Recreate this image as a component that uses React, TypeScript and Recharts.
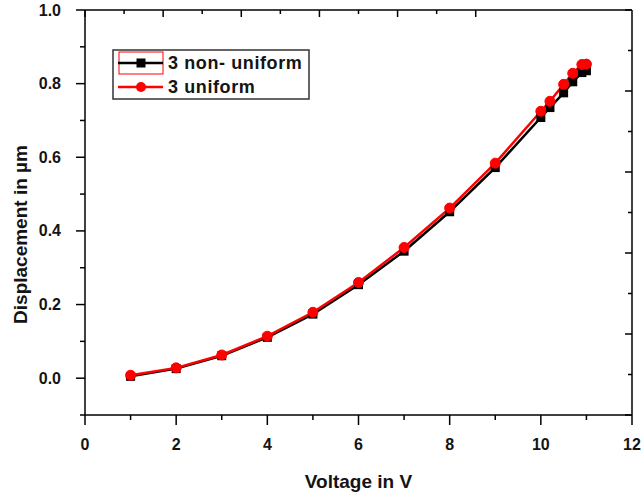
import { LineChart, Line, XAxis, YAxis } from 'recharts'

// applied voltage (V)
const voltage = [1, 2, 3, 4, 5, 6, 7, 8, 9, 10, 10.2, 10.5, 10.7, 10.9, 11]
// displacement (um)
const nonUniform = [0.005, 0.026, 0.061, 0.111, 0.174, 0.254, 0.345, 0.452, 0.572, 0.708, 0.735, 0.775, 0.805, 0.83, 0.835]
const uniform = [0.008, 0.028, 0.063, 0.114, 0.179, 0.26, 0.355, 0.462, 0.584, 0.725, 0.752, 0.798, 0.828, 0.852, 0.853]

const xTicks = [0, 1, 2, 3, 4, 5, 6, 7, 8, 9, 10, 11, 12]
const yTicks = [-0.1, 0, 0.1, 0.2, 0.3, 0.4, 0.5, 0.6, 0.7, 0.8, 0.9, 1.0]
const topTicks = [0, 1, 2, 3, 4, 5, 6, 7, 8, 9, 10]
const rightTicks = [0, 1, 2, 3, 4, 5, 6, 7, 8, 9, 10]

const SERIES = [
  { key: 'nonUniform', name: '3 non- uniform', color: '#000000' },
  { key: 'uniform', name: '3 uniform', color: '#ff0000' },
]

const data = voltage.map((v, i) => ({ v, nonUniform: nonUniform[i], uniform: uniform[i] }))

const FONT = '"Liberation Sans", Arial, sans-serif'
const TEXT = '#141414'

function BottomTick({ x, y, payload }: any) {
  const major = payload.value % 2 === 0
  return (
    <g>
      <line x1={x} y1={y} x2={x} y2={y + (major ? 10 : 5)} stroke="#000" strokeWidth={1.5} />
      {major && (
        <text x={x} y={y + 29} textAnchor="middle" dominantBaseline="central"
          fontFamily={FONT} fontWeight="bold" fontSize={16} fill={TEXT}>
          {payload.value}
        </text>
      )}
    </g>
  )
}

function LeftTick({ x, y, payload }: any) {
  const n = Math.round(payload.value * 10)
  const major = n >= 0 && n % 2 === 0
  return (
    <g>
      <line x1={x - (major ? 9 : 5)} y1={y} x2={x} y2={y} stroke="#000" strokeWidth={1.5} />
      {major && (
        <text x={x - 24} y={y} textAnchor="end" dominantBaseline="central"
          fontFamily={FONT} fontWeight="bold" fontSize={16} fill={TEXT}>
          {(n / 10).toFixed(1)}
        </text>
      )}
    </g>
  )
}

function TopTick({ x, y, payload }: any) {
  const major = payload.value % 2 === 0
  return <line x1={x} y1={y} x2={x} y2={y + (major ? 7 : 4)} stroke="#000" strokeWidth={1.5} />
}

function RightTick({ x, y, payload }: any) {
  const major = payload.value % 2 === 0
  return <line x1={x - (major ? 7 : 4)} y1={y} x2={x} y2={y} stroke="#000" strokeWidth={1.5} />
}

function SquareDot({ cx, cy, index }: any) {
  return <rect key={`sq-${index}`} x={cx - 4.5} y={cy - 4.5} width={9} height={9} fill="#000" />
}

function YTitle({ viewBox }: any) {
  const cx = 20
  const cy = viewBox.y + viewBox.height / 2 + 22
  return (
    <text x={cx} y={cy} transform={`rotate(-90, ${cx}, ${cy})`} textAnchor="middle"
      dominantBaseline="central" fontFamily={FONT} fontWeight="bold" fontSize={19} fill={TEXT}>
      Displacement in µm
    </text>
  )
}

function XTitle({ viewBox }: any) {
  const cx = viewBox.x + viewBox.width / 2
  return (
    <text x={cx} y={481} textAnchor="middle" dominantBaseline="central"
      fontFamily={FONT} fontWeight="bold" fontSize={19} fill={TEXT}>
      Voltage in V
    </text>
  )
}

function LegendBox() {
  return (
    <svg width={641} height={494} style={{ position: 'absolute', left: 0, top: 0, pointerEvents: 'none' }}>
      <rect x={113} y={50} width={196} height={49} fill="#fff" stroke="#333" strokeWidth={1.5} />
      <rect x={119} y={52} width={44} height={22} fill="none" stroke="#ff0000" strokeWidth={1} />
      {SERIES.map((s, i) => {
        const cy = 63 + i * 24
        return (
          <g key={s.key}>
            <line x1={118} y1={cy} x2={163} y2={cy} stroke={s.color} strokeWidth={2.5} />
            {i === 0
              ? <rect x={136.5} y={cy - 4.5} width={9} height={9} fill={s.color} />
              : <circle cx={141} cy={cy} r={5} fill={s.color} />}
            <text x={168} y={cy} dominantBaseline="central" fontFamily={FONT} fontWeight="bold"
              fontSize={18} letterSpacing={0.6} fill={TEXT}>
              {s.name}
            </text>
          </g>
        )
      })}
    </svg>
  )
}

export default function App() {
  return (
    <div style={{ position: 'absolute', left: 0, top: 0, width: 641, height: 494, background: '#fff' }}>
      <LineChart width={641} height={494} data={data} margin={{ top: 9, right: 8, bottom: 0, left: 0 }}>
        <XAxis xAxisId="bottom" dataKey="v" type="number" domain={[0, 12]} ticks={xTicks} interval={0}
          height={79} tickSize={0} tickMargin={0} tick={<BottomTick />}
          axisLine={{ stroke: '#000', strokeWidth: 1.5 }} label={<XTitle />} />
        <XAxis xAxisId="top" orientation="top" type="number" domain={[0, 10]} ticks={topTicks} interval={0}
          allowDataOverflow height={1} tickSize={0} tickMargin={0} tick={<TopTick />}
          axisLine={{ stroke: '#000', strokeWidth: 1.5 }} />
        <YAxis yAxisId="left" type="number" domain={[-0.1, 1.0]} ticks={yTicks} interval={0}
          width={85} tickSize={0} tickMargin={0} tick={<LeftTick />}
          axisLine={{ stroke: '#000', strokeWidth: 1.5 }} label={<YTitle />} />
        <YAxis yAxisId="right" orientation="right" type="number" domain={[0, 10]} ticks={rightTicks} interval={0}
          allowDataOverflow width={1} tickSize={0} tickMargin={0} tick={<RightTick />}
          axisLine={{ stroke: '#000', strokeWidth: 1.5 }} />
        <Line xAxisId="bottom" yAxisId="left" type="linear" dataKey="nonUniform" name={SERIES[0].name}
          stroke={SERIES[0].color} strokeWidth={2.5} dot={<SquareDot />} isAnimationActive={false} />
        <Line xAxisId="bottom" yAxisId="left" type="linear" dataKey="uniform" name={SERIES[1].name}
          stroke={SERIES[1].color} strokeWidth={2.5}
          dot={{ r: 5, fill: SERIES[1].color, stroke: SERIES[1].color, strokeWidth: 1 }}
          isAnimationActive={false} />
      </LineChart>
      <LegendBox />
    </div>
  )
}
